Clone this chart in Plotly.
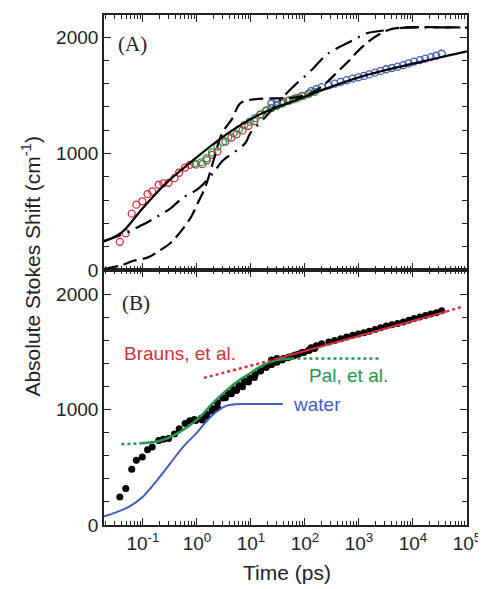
import plotly.graph_objects as go

# ---------------- Panel A data ----------------
red_t = [0.0374, 0.0482, 0.0621, 0.0757, 0.0975, 0.122, 0.149, 0.196, 0.239, 0.299,
         0.385, 0.470, 0.605, 0.738, 0.895, 1.26, 1.53, 1.91, 2.40, 3.37,
         4.34, 5.42, 6.98, 9.0, 11.6, 14.9, 19.2, 24.0, 31.0, 39.9,
         51.4, 66.2, 87.7, 116]
red_v = [242, 316, 484, 561, 590, 652, 675, 732, 744, 749,
         789, 835, 880, 903, 915, 909, 943, 989, 1017, 1103,
         1137, 1165, 1199, 1239, 1279, 1336, 1370, 1393, 1421, 1444,
         1456, 1473, 1496, 1513]

green_t = [0.955, 1.20, 1.51, 1.91, 2.40, 3.02, 3.80, 4.79, 6.03, 7.59, 9.55, 12.0,
           15.1, 19.1, 24.0, 30.2, 38.0, 47.9, 60.3, 75.9, 95.5, 120, 151]
green_v = [905, 925, 960, 1010, 1060, 1100, 1140, 1175, 1210, 1245, 1275, 1305,
           1335, 1365, 1390, 1410, 1430, 1450, 1465, 1480, 1495, 1515, 1530]

blue_t = [24.0, 30.2, 130, 162, 204, 277, 355, 460, 589, 764, 977, 1233, 1549,
          1986, 2512, 3199, 4074, 5176, 6607, 8337, 10471, 13428, 16982, 21380,
          26915, 33963]
blue_v = [1430, 1444, 1536, 1553, 1570, 1587, 1600, 1615, 1630, 1644, 1655, 1667,
          1680, 1695, 1710, 1724, 1735, 1746, 1760, 1775, 1790, 1803, 1815, 1828,
          1840, 1857]

fit_t = [0.019, 0.040, 0.10, 0.27, 0.95, 3.4, 13.8, 56, 302, 1230, 10000, 100000]
fit_v = [245, 320, 533, 746, 960, 1160, 1331, 1444, 1573, 1667, 1772, 1878]

dash_t = [0.019, 0.040, 0.063, 0.126, 0.20, 0.32, 0.50, 0.79, 1.0, 1.45, 2.0, 2.9,
          4.5, 6.3, 10, 32, 63, 100, 158, 251, 398, 631, 1000, 1585, 2512, 3981,
          6310, 100000]
dash_v = [10, 40, 75, 110, 165, 230, 330, 460, 560, 720, 930, 1170,
          1300, 1430, 1462, 1475, 1480, 1500, 1540, 1610, 1700, 1790, 1890, 1970,
          2030, 2070, 2082, 2082]

dashdot_t = [0.019, 0.050, 0.087, 0.115, 0.33, 0.42, 0.54, 1.09, 2.06, 2.9, 7.8,
             9.7, 20, 32, 56, 105, 151, 200, 263, 759, 1042, 1413, 2884, 5000,
             7080, 100000]
dashdot_v = [250, 320, 376, 404, 532, 575, 618, 703, 840, 932, 1088,
             1174, 1330, 1440, 1559, 1673, 1744, 1806, 1857, 1972, 2006, 2034, 2057, 2075,
             2082, 2082]

# ---------------- Panel B data ----------------
pal_t = [0.093, 0.20, 0.35, 0.63, 1.10, 1.91, 3.39, 6.31, 10.0, 15.8, 28.2, 56.2]
pal_v = [708, 728, 770, 840, 930, 1050, 1160, 1260, 1320, 1380, 1425, 1442]
pal_lo_t = [0.040, 0.093]
pal_lo_v = [700, 708]
pal_hi_t = [56.2, 2500]
pal_hi_v = [1442, 1442]

brauns_t = [28.2, 41700]
brauns_v = [1436, 1850]
brauns_dot_t = [1.35, 28.2]
brauns_dot_v = [1275, 1436]
brauns_dot2_t = [41700, 79400]
brauns_dot2_v = [1850, 1890]

water_t = [0.019, 0.032, 0.056, 0.10, 0.178, 0.316, 0.562, 1.0, 1.58, 2.51, 3.55, 5.0, 10, 39]
water_v = [75, 110, 160, 245, 380, 530, 680, 800, 910, 995, 1035, 1046, 1048, 1048]

xt_vals = [0.1, 1, 10, 100, 1000, 10000, 100000]
xt_text = ["10<sup>-1</sup>", "10<sup>0</sup>", "10<sup>1</sup>", "10<sup>2</sup>",
           "10<sup>3</sup>", "10<sup>4</sup>", "10<sup>5</sup>"]

RED = "#d22f3c"
GREEN = "#22994a"
BLUE = "#3f5fc0"

fig = go.Figure()

# Panel A
fig.add_trace(go.Scatter(x=red_t, y=red_v, mode="markers", xaxis="x2", yaxis="y2",
                         marker=dict(symbol="circle-open", size=7, color=RED, line=dict(width=1.3))))
fig.add_trace(go.Scatter(x=green_t, y=green_v, mode="markers", xaxis="x2", yaxis="y2",
                         marker=dict(symbol="circle-open", size=7, color=GREEN, line=dict(width=1.3))))
fig.add_trace(go.Scatter(x=blue_t, y=blue_v, mode="markers", xaxis="x2", yaxis="y2",
                         marker=dict(symbol="circle-open", size=7, color=BLUE, line=dict(width=1.3))))
fig.add_trace(go.Scatter(x=dash_t, y=dash_v, mode="lines", xaxis="x2", yaxis="y2",
                         line=dict(color="black", width=2.2, dash="14px,6px", shape="spline")))
fig.add_trace(go.Scatter(x=dashdot_t, y=dashdot_v, mode="lines", xaxis="x2", yaxis="y2",
                         line=dict(color="black", width=2.2, dash="18px,7px,2px,7px", shape="spline")))
fig.add_trace(go.Scatter(x=fit_t, y=fit_v, mode="lines", xaxis="x2", yaxis="y2",
                         line=dict(color="black", width=2.2, shape="spline")))

# Panel B
fig.add_trace(go.Scatter(x=red_t + green_t + blue_t, y=red_v + green_v + blue_v, mode="markers",
                         marker=dict(size=7, color="black")))
fig.add_trace(go.Scatter(x=water_t, y=water_v, mode="lines",
                         line=dict(color=BLUE, width=2, shape="spline")))
fig.add_trace(go.Scatter(x=pal_t, y=pal_v, mode="lines",
                         line=dict(color=GREEN, width=2.5, shape="spline")))
fig.add_trace(go.Scatter(x=pal_lo_t, y=pal_lo_v, mode="lines",
                         line=dict(color=GREEN, width=2.5, dash="dot")))
fig.add_trace(go.Scatter(x=pal_hi_t, y=pal_hi_v, mode="lines",
                         line=dict(color=GREEN, width=2.5, dash="dot")))
fig.add_trace(go.Scatter(x=brauns_t, y=brauns_v, mode="lines",
                         line=dict(color=RED, width=2.2)))
fig.add_trace(go.Scatter(x=brauns_dot_t, y=brauns_dot_v, mode="lines",
                         line=dict(color=RED, width=2.5, dash="dot")))
fig.add_trace(go.Scatter(x=brauns_dot2_t, y=brauns_dot2_v, mode="lines",
                         line=dict(color=RED, width=2.5, dash="dot")))

TICKFONT = dict(family="Arial, Liberation Sans, sans-serif", size=19, color="#222")

xcommon = dict(type="log", range=[-1.72, 5.0], showline=True, linecolor="#222", linewidth=1.6,
               ticks="inside", ticklen=7, tickwidth=1.3, tickcolor="#222", mirror="ticks",
               showgrid=False, zeroline=False, tickvals=xt_vals, ticktext=xt_text,
               minor=dict(ticks="inside", ticklen=4, tickwidth=1, tickcolor="#222", dtick="D1",
                          showgrid=False),
               tickfont=TICKFONT)
ycommon = dict(showline=True, linecolor="#222", linewidth=1.6, ticks="inside", ticklen=7,
               tickwidth=1.3, tickcolor="#222", mirror="ticks", showgrid=False, zeroline=False,
               tickvals=[0, 1000, 2000],
               minor=dict(ticks="inside", ticklen=5, tickwidth=1, tickcolor="#222", dtick=200,
                          showgrid=False),
               tickfont=TICKFONT)

# the page body adds an 8px offset, so the figure is sized/margined to compensate
fig.update_layout(
    width=478, height=581,
    margin=dict(l=96, r=16, t=5, b=64),
    paper_bgcolor="white", plot_bgcolor="white",
    showlegend=False,
    xaxis=dict(**xcommon, anchor="y", domain=[0, 1]),
    yaxis=dict(**ycommon, anchor="x", domain=[0, 0.5], range=[0, 2210]),
    xaxis2=dict(**{**xcommon, "showticklabels": False}, anchor="y2", domain=[0, 1], matches="x"),
    yaxis2=dict(**ycommon, anchor="x2", domain=[0.5, 1], range=[0, 2190]),
    annotations=[
        dict(text="(A)", xref="paper", yref="paper", x=0.033, y=0.943, xanchor="left",
             yanchor="middle", showarrow=False,
             font=dict(family="Times New Roman, Liberation Serif, serif", size=21, color="#222")),
        dict(text="(B)", xref="paper", yref="paper", x=0.045, y=0.435, xanchor="left",
             yanchor="middle", showarrow=False,
             font=dict(family="Times New Roman, Liberation Serif, serif", size=21, color="#222")),
        dict(text="Brauns, et al.", xref="paper", yref="paper", x=0.049, y=0.336, xanchor="left",
             yanchor="middle", showarrow=False,
             font=dict(family="Arial, Liberation Sans, sans-serif", size=19, color=RED)),
        dict(text="Pal, et al.", xref="paper", yref="paper", x=0.56, y=0.293, xanchor="left",
             yanchor="middle", showarrow=False,
             font=dict(family="Arial, Liberation Sans, sans-serif", size=19, color=GREEN)),
        dict(text="water", xref="paper", yref="paper", x=0.514, y=0.236, xanchor="left",
             yanchor="middle", showarrow=False,
             font=dict(family="Arial, Liberation Sans, sans-serif", size=19, color=BLUE)),
        dict(text="Absolute Stokes Shift (cm<sup>-1</sup>)", xref="paper", yref="paper",
             x=-0.202, y=0.508, xanchor="center", yanchor="middle", textangle=-90,
             showarrow=False,
             font=dict(family="Arial, Liberation Sans, sans-serif", size=21, color="#222")),
        dict(text="Time (ps)", xref="paper", yref="paper", x=0.503, y=-0.094,
             xanchor="center", yanchor="middle", showarrow=False,
             font=dict(family="Arial, Liberation Sans, sans-serif", size=21, color="#222")),
    ],
)

fig.write_html("out.html")
